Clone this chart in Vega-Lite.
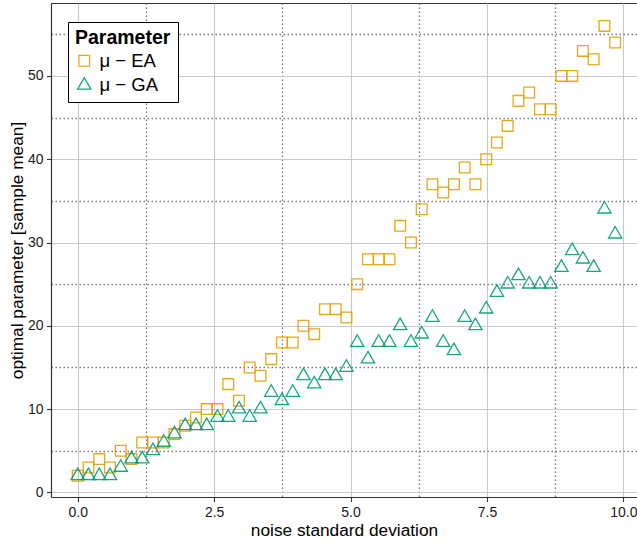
{
  "$schema": "https://vega.github.io/schema/vega-lite/v6.json",
  "width": 586,
  "height": 494,
  "autosize": {"type": "none"},
  "padding": {"left": 51, "top": 3, "right": 0, "bottom": 44},
  "background": "white",
  "config": {
    "font": "Liberation Sans",
    "view": {"stroke": "#333333", "strokeWidth": 1},
    "axis": {
      "domainColor": "#333333",
      "domainWidth": 1.2,
      "tickColor": "#333333",
      "tickSize": 4.5,
      "tickWidth": 1.1,
      "labelFontSize": 14,
      "labelColor": "#1a1a1a",
      "labelPadding": 3.5,
      "labelFlush": false,
      "labelOverlap": false,
      "titleFontSize": 17.3,
      "titleFontWeight": "normal",
      "titleColor": "#000000"
    }
  },
  "data": {
    "values": [
      {"x": 0, "y": 2, "Parameter": "μ − EA"},
      {"x": 0.197, "y": 3, "Parameter": "μ − EA"},
      {"x": 0.394, "y": 4, "Parameter": "μ − EA"},
      {"x": 0.591, "y": 3, "Parameter": "μ − EA"},
      {"x": 0.788, "y": 5, "Parameter": "μ − EA"},
      {"x": 0.985, "y": 4, "Parameter": "μ − EA"},
      {"x": 1.182, "y": 6, "Parameter": "μ − EA"},
      {"x": 1.379, "y": 6, "Parameter": "μ − EA"},
      {"x": 1.576, "y": 6, "Parameter": "μ − EA"},
      {"x": 1.773, "y": 7, "Parameter": "μ − EA"},
      {"x": 1.97, "y": 8, "Parameter": "μ − EA"},
      {"x": 2.167, "y": 9, "Parameter": "μ − EA"},
      {"x": 2.364, "y": 10, "Parameter": "μ − EA"},
      {"x": 2.561, "y": 10, "Parameter": "μ − EA"},
      {"x": 2.758, "y": 13, "Parameter": "μ − EA"},
      {"x": 2.955, "y": 11, "Parameter": "μ − EA"},
      {"x": 3.152, "y": 15, "Parameter": "μ − EA"},
      {"x": 3.349, "y": 14, "Parameter": "μ − EA"},
      {"x": 3.546, "y": 16, "Parameter": "μ − EA"},
      {"x": 3.743, "y": 18, "Parameter": "μ − EA"},
      {"x": 3.94, "y": 18, "Parameter": "μ − EA"},
      {"x": 4.137, "y": 20, "Parameter": "μ − EA"},
      {"x": 4.334, "y": 19, "Parameter": "μ − EA"},
      {"x": 4.531, "y": 22, "Parameter": "μ − EA"},
      {"x": 4.728, "y": 22, "Parameter": "μ − EA"},
      {"x": 4.925, "y": 21, "Parameter": "μ − EA"},
      {"x": 5.122, "y": 25, "Parameter": "μ − EA"},
      {"x": 5.319, "y": 28, "Parameter": "μ − EA"},
      {"x": 5.516, "y": 28, "Parameter": "μ − EA"},
      {"x": 5.713, "y": 28, "Parameter": "μ − EA"},
      {"x": 5.91, "y": 32, "Parameter": "μ − EA"},
      {"x": 6.107, "y": 30, "Parameter": "μ − EA"},
      {"x": 6.304, "y": 34, "Parameter": "μ − EA"},
      {"x": 6.501, "y": 37, "Parameter": "μ − EA"},
      {"x": 6.698, "y": 36, "Parameter": "μ − EA"},
      {"x": 6.895, "y": 37, "Parameter": "μ − EA"},
      {"x": 7.092, "y": 39, "Parameter": "μ − EA"},
      {"x": 7.289, "y": 37, "Parameter": "μ − EA"},
      {"x": 7.486, "y": 40, "Parameter": "μ − EA"},
      {"x": 7.683, "y": 42, "Parameter": "μ − EA"},
      {"x": 7.88, "y": 44, "Parameter": "μ − EA"},
      {"x": 8.077, "y": 47, "Parameter": "μ − EA"},
      {"x": 8.274, "y": 48, "Parameter": "μ − EA"},
      {"x": 8.471, "y": 46, "Parameter": "μ − EA"},
      {"x": 8.668, "y": 46, "Parameter": "μ − EA"},
      {"x": 8.865, "y": 50, "Parameter": "μ − EA"},
      {"x": 9.062, "y": 50, "Parameter": "μ − EA"},
      {"x": 9.259, "y": 53, "Parameter": "μ − EA"},
      {"x": 9.456, "y": 52, "Parameter": "μ − EA"},
      {"x": 9.653, "y": 56, "Parameter": "μ − EA"},
      {"x": 9.85, "y": 54, "Parameter": "μ − EA"},
      {"x": 0, "y": 2, "Parameter": "μ − GA"},
      {"x": 0.197, "y": 2, "Parameter": "μ − GA"},
      {"x": 0.394, "y": 2, "Parameter": "μ − GA"},
      {"x": 0.591, "y": 2, "Parameter": "μ − GA"},
      {"x": 0.788, "y": 3, "Parameter": "μ − GA"},
      {"x": 0.985, "y": 4, "Parameter": "μ − GA"},
      {"x": 1.182, "y": 4, "Parameter": "μ − GA"},
      {"x": 1.379, "y": 5, "Parameter": "μ − GA"},
      {"x": 1.576, "y": 6, "Parameter": "μ − GA"},
      {"x": 1.773, "y": 7, "Parameter": "μ − GA"},
      {"x": 1.97, "y": 8, "Parameter": "μ − GA"},
      {"x": 2.167, "y": 8, "Parameter": "μ − GA"},
      {"x": 2.364, "y": 8, "Parameter": "μ − GA"},
      {"x": 2.561, "y": 9, "Parameter": "μ − GA"},
      {"x": 2.758, "y": 9, "Parameter": "μ − GA"},
      {"x": 2.955, "y": 10, "Parameter": "μ − GA"},
      {"x": 3.152, "y": 9, "Parameter": "μ − GA"},
      {"x": 3.349, "y": 10, "Parameter": "μ − GA"},
      {"x": 3.546, "y": 12, "Parameter": "μ − GA"},
      {"x": 3.743, "y": 11, "Parameter": "μ − GA"},
      {"x": 3.94, "y": 12, "Parameter": "μ − GA"},
      {"x": 4.137, "y": 14, "Parameter": "μ − GA"},
      {"x": 4.334, "y": 13, "Parameter": "μ − GA"},
      {"x": 4.531, "y": 14, "Parameter": "μ − GA"},
      {"x": 4.728, "y": 14, "Parameter": "μ − GA"},
      {"x": 4.925, "y": 15, "Parameter": "μ − GA"},
      {"x": 5.122, "y": 18, "Parameter": "μ − GA"},
      {"x": 5.319, "y": 16, "Parameter": "μ − GA"},
      {"x": 5.516, "y": 18, "Parameter": "μ − GA"},
      {"x": 5.713, "y": 18, "Parameter": "μ − GA"},
      {"x": 5.91, "y": 20, "Parameter": "μ − GA"},
      {"x": 6.107, "y": 18, "Parameter": "μ − GA"},
      {"x": 6.304, "y": 19, "Parameter": "μ − GA"},
      {"x": 6.501, "y": 21, "Parameter": "μ − GA"},
      {"x": 6.698, "y": 18, "Parameter": "μ − GA"},
      {"x": 6.895, "y": 17, "Parameter": "μ − GA"},
      {"x": 7.092, "y": 21, "Parameter": "μ − GA"},
      {"x": 7.289, "y": 20, "Parameter": "μ − GA"},
      {"x": 7.486, "y": 22, "Parameter": "μ − GA"},
      {"x": 7.683, "y": 24, "Parameter": "μ − GA"},
      {"x": 7.88, "y": 25, "Parameter": "μ − GA"},
      {"x": 8.077, "y": 26, "Parameter": "μ − GA"},
      {"x": 8.274, "y": 25, "Parameter": "μ − GA"},
      {"x": 8.471, "y": 25, "Parameter": "μ − GA"},
      {"x": 8.668, "y": 25, "Parameter": "μ − GA"},
      {"x": 8.865, "y": 27, "Parameter": "μ − GA"},
      {"x": 9.062, "y": 29, "Parameter": "μ − GA"},
      {"x": 9.259, "y": 28, "Parameter": "μ − GA"},
      {"x": 9.456, "y": 27, "Parameter": "μ − GA"},
      {"x": 9.653, "y": 34, "Parameter": "μ − GA"},
      {"x": 9.85, "y": 31, "Parameter": "μ − GA"}
    ]
  },
  "mark": {"type": "point", "filled": false, "strokeWidth": 1.3, "opacity": 0.9},
  "encoding": {
    "x": {
      "field": "x",
      "type": "quantitative",
      "scale": {"domain": [-0.49, 10.25], "nice": false, "zero": false},
      "axis": {
        "title": "noise standard deviation",
        "values": [0, 1.25, 2.5, 3.75, 5, 6.25, 7.5, 8.75, 10],
        "labelExpr": "datum.value % 2.5 == 0 ? format(datum.value, '.1f') : ''",
        "labelPadding": 4,
        "titlePadding": 2,
        "tickOpacity": {"condition": {"test": "datum.value % 2.5 != 0", "value": 0}, "value": 1},
        "gridColor": {"condition": {"test": "datum.value % 2.5 != 0", "value": "#7a7a7a"}, "value": "#c8c8c8"},
        "gridDash": {"condition": {"test": "datum.value % 2.5 != 0", "value": [1.5, 2.5]}, "value": []},
        "gridWidth": {"condition": {"test": "datum.value % 2.5 != 0", "value": 1.3}, "value": 1.1}
      }
    },
    "y": {
      "field": "y",
      "type": "quantitative",
      "scale": {"domain": [-0.55, 58.75], "nice": false, "zero": false},
      "axis": {
        "title": "optimal parameter [sample mean]",
        "values": [0, 5, 10, 15, 20, 25, 30, 35, 40, 45, 50, 55],
        "labelExpr": "datum.value % 10 == 0 ? format(datum.value, 'd') : ''",
        "titlePadding": 1,
        "tickOpacity": {"condition": {"test": "datum.value % 10 != 0", "value": 0}, "value": 1},
        "gridColor": {"condition": {"test": "datum.value % 10 != 0", "value": "#7a7a7a"}, "value": "#c8c8c8"},
        "gridDash": {"condition": {"test": "datum.value % 10 != 0", "value": [1.5, 2.5]}, "value": []},
        "gridWidth": {"condition": {"test": "datum.value % 10 != 0", "value": 1.3}, "value": 1.1}
      }
    },
    "color": {
      "field": "Parameter",
      "type": "nominal",
      "scale": {"domain": ["μ − EA", "μ − GA"], "range": ["#E69F00", "#009E73"]},
      "legend": {
        "title": "Parameter",
        "orient": "none",
        "legendX": 17,
        "legendY": 19,
        "fillColor": "white",
        "strokeColor": "#000000",
        "padding": 7,
        "titleFontSize": 19.5,
        "titleFontWeight": "bold",
        "titleColor": "#000000",
        "titlePadding": 3,
        "labelFontSize": 18.5,
        "labelColor": "#000000",
        "labelOffset": 6,
        "rowPadding": 3.5,
        "symbolSize": 130,
        "symbolStrokeWidth": 1.3,
        "encode": {"legend": {"update": {"strokeWidth": {"value": 1.5}}}}
      }
    },
    "shape": {
      "field": "Parameter",
      "type": "nominal",
      "scale": {"domain": ["μ − EA", "μ − GA"], "range": ["square", "M0,-1.155L1,0.577L-1,0.577Z"]}
    },
    "size": {
      "field": "Parameter",
      "type": "ordinal",
      "scale": {"domain": ["μ − EA", "μ − GA"], "range": [115, 177]},
      "legend": null
    }
  }
}
